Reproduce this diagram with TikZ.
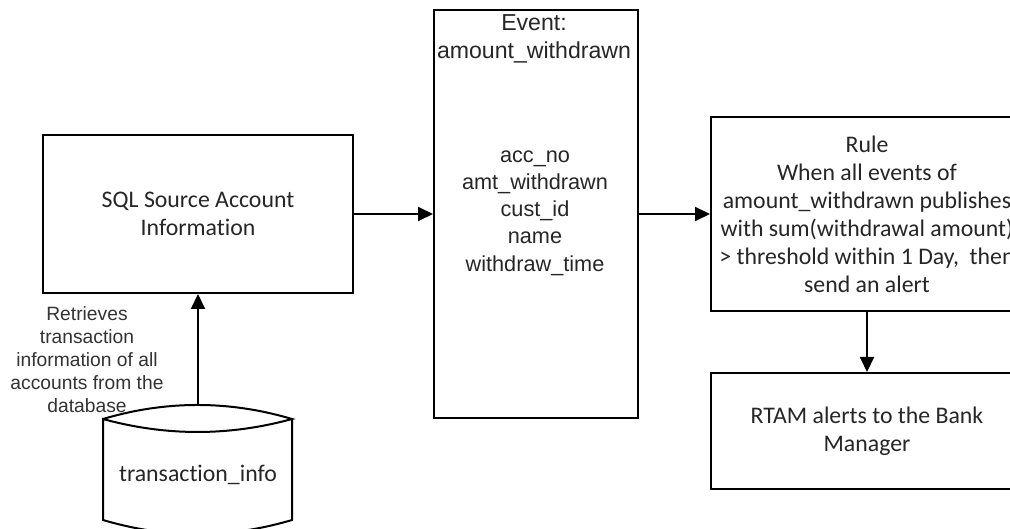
\documentclass[tikz,border=0pt]{standalone}
\usepackage{fontspec}
\setmainfont{Liberation Sans}
\newfontfamily\calib[Ligatures=NoCommon]{Carlito}
\usetikzlibrary{arrows.meta}
\begin{document}
\begin{tikzpicture}[x=1pt,y=-1pt,
  box/.style={draw, line width=2pt, inner sep=0pt},
  arr/.style={line width=2pt, -{Triangle[length=15pt,width=14pt]}},
  cal/.style={font=\calib\fontsize{23.8}{28}\selectfont, align=center, text=black!85},
  ari/.style={font=\fontsize{21.7}{27.2}\selectfont, align=center, text=black!85},
  arititle/.style={font=\fontsize{23.1}{28}\selectfont, align=center, text=black!85},
  arilbl/.style={font=\fontsize{19.25}{23}\selectfont, align=center, text=black!80}]
\useasboundingbox (0,0) rectangle (1010,529);
\fill[white] (0,0) rectangle (1010,529);
\begin{scope}
\clip (0,0) rectangle (1010,529);

% boxes
\node[box, cal, minimum width=310pt, minimum height=158pt] (sql) at (198,214) {SQL Source Account\\Information};
\node[box, minimum width=204pt, minimum height=408pt] (event) at (536,214) {};
\node[arititle] (evtitle) at (534,39) {Event:\\amount\_withdrawn};
\node[ari] (evfields) at (535,213) {acc\_no\\amt\_withdrawn\\cust\_id\\name\\withdraw\_time};
\node[box, cal, overlay, minimum width=312pt, minimum height=194pt] (rule) at (867,214) {Rule\\When all events of\\amount\_withdrawn publishes\\with sum(withdrawal amount)\\> threshold within 1 Day,\ \ then\\send an alert};
\node[box, cal, overlay, minimum width=312pt, minimum height=116pt] (rtam) at (867,431) {RTAM alerts to the Bank\\Manager};

% cylinder
\draw[line width=2pt, overlay] (103,419) .. controls (166,400.3) and (229,400.3) .. (292,419)
  .. controls (229,436.3) and (166,436.3) .. (103,419) -- (103,520)
  .. controls (166,538.7) and (229,538.7) .. (292,520) -- (292,419);
\coordinate (cyltop) at (198,405);
\node[cal] (cyl) at (198,475) {transaction\_info};

% label
\node[arilbl] (lbl) at (87,360) {Retrieves\\transaction\\information of all\\accounts from the\\database};

% connectors
\draw[arr] (cyltop) -- (sql.south);
\draw[arr] (sql.east) -- (event.west);
\draw[arr] (event.east) -- (rule.west);
\draw[arr] (rule.south) -- (rtam.north);
\end{scope}
\end{tikzpicture}
\end{document}
